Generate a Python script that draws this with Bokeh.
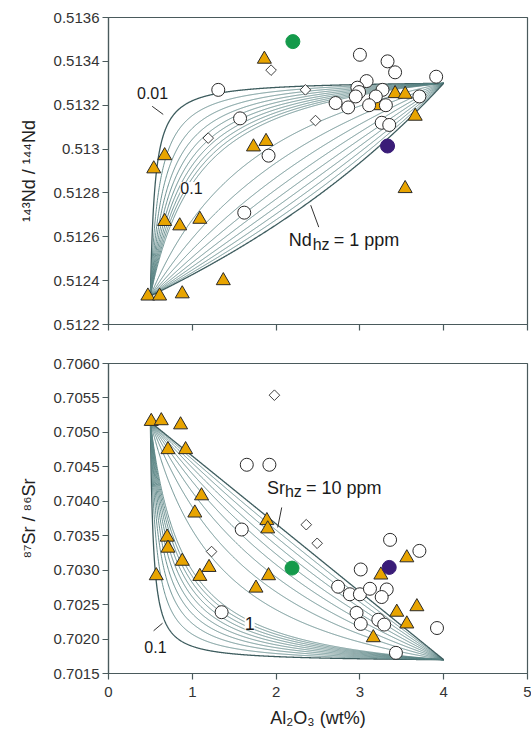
import numpy as np
from bokeh.plotting import figure
from bokeh.layouts import column
from bokeh.models import FixedTicker, Label
from bokeh.embed import file_html
from bokeh.resources import INLINE

# ---------------- data ----------------
x_ticks = [0, 1, 2, 3, 4, 5]
nd_ticks = [0.5122, 0.5124, 0.5126, 0.5128, 0.5130, 0.5132, 0.5134, 0.5136]
nd_tick_labels = ["0.5122", "0.5124", "0.5126", "0.5128", "0.513", "0.5132", "0.5134", "0.5136"]
sr_ticks = [0.7015, 0.7020, 0.7025, 0.7030, 0.7035, 0.7040, 0.7045, 0.7050, 0.7055, 0.7060]
sr_tick_labels = ["0.7015", "0.7020", "0.7025", "0.7030", "0.7035", "0.7040", "0.7045", "0.7050", "0.7055", "0.7060"]

# mixing model end-members (harzburgite -> fertile)
nd_al_hz, nd_r_hz, nd_al_f, nd_r_f, nd_c_f = 0.5, 0.51233, 4.0, 0.51330, 0.67
nd_c_hz = [0.01, 0.02, 0.03, 0.04, 0.05, 0.06, 0.07, 0.08, 0.09, 0.1,
           0.2, 0.3, 0.4, 0.5, 0.6, 0.7, 0.8, 0.9, 1.0]
sr_al_hz, sr_r_hz, sr_al_f, sr_r_f, sr_c_f = 0.5, 0.70515, 4.0, 0.70170, 10.0
sr_c_hz = [0.1, 0.2, 0.3, 0.4, 0.5, 0.6, 0.7, 0.8, 0.9, 1.0,
           2, 3, 4, 5, 6, 7, 8, 9, 10]

# Nd panel samples
nd_tri_x = [1.86, 3.42, 3.54, 3.22, 3.66, 1.88, 1.73, 0.67, 0.54, 3.54, 0.67, 0.85, 1.09, 1.37, 0.47, 0.61, 0.88]
nd_tri_y = [0.51341, 0.513253, 0.51325, 0.513198, 0.51315, 0.513035, 0.51301, 0.51297, 0.51291, 0.51282,
            0.51267, 0.51265, 0.51268, 0.51240, 0.51233, 0.51233, 0.51234]
nd_circ_x = [3.00, 3.33, 3.42, 3.91, 3.08, 1.31, 2.97, 2.99, 3.27, 2.95, 3.19, 3.71, 2.71, 2.86, 3.11, 3.31,
             1.57, 3.26, 3.35, 1.91, 1.62]
nd_circ_y = [0.51343, 0.51340, 0.51335, 0.51333, 0.51331, 0.51327, 0.51328, 0.51326, 0.51327, 0.51324,
             0.51324, 0.51324, 0.51321, 0.51319, 0.51320, 0.51320, 0.51314, 0.51312, 0.51311, 0.51297, 0.51271]
nd_dia_x = [1.94, 2.35, 2.47, 1.19]
nd_dia_y = [0.51336, 0.51327, 0.51313, 0.51305]
nd_green_x, nd_green_y = [2.20], [0.51349]
nd_purple_x, nd_purple_y = [3.33], [0.513014]

# Sr panel samples
sr_tri_x = [0.51, 0.63, 0.86, 0.71, 0.92, 1.11, 1.03, 1.89, 1.90, 0.70, 0.71, 0.88, 1.20, 0.57, 1.09, 1.91,
            1.76, 3.25, 3.56, 3.68, 3.44, 3.56, 3.16]
sr_tri_y = [0.70516, 0.70517, 0.70511, 0.70475, 0.70475, 0.70408, 0.70383, 0.70372, 0.70360, 0.70348,
            0.70332, 0.70313, 0.70304, 0.70292, 0.70291, 0.70292, 0.70274, 0.70293, 0.70318, 0.70247,
            0.70239, 0.70222, 0.70202]
sr_circ_x = [1.65, 1.92, 1.59, 3.36, 3.71, 3.01, 2.74, 2.88, 3.00, 3.12, 3.32, 3.26, 2.96, 3.01, 3.22, 3.29,
             3.92, 1.35, 3.43]
sr_circ_y = [0.70453, 0.70453, 0.70359, 0.70344, 0.70328, 0.70301, 0.70276, 0.70265, 0.70265, 0.70273,
             0.70272, 0.70261, 0.70238, 0.70222, 0.70228, 0.70221, 0.70216, 0.70239, 0.70180]
sr_dia_x = [1.98, 2.36, 2.49, 1.23]
sr_dia_y = [0.70554, 0.70366, 0.70339, 0.70327]
sr_green_x, sr_green_y = [2.19], [0.70303]
sr_purple_x, sr_purple_y = [3.35], [0.70304]

# ---------------- style ----------------
FONT = "Liberation Sans"
AX = "#4a5a5c"
CURVE = "#5a8485"
CURVE_DARK = "#3d5c5e"
ORANGE = "#e8a400"
GREEN = "#149a4b"
PURPLE = "#3a1c78"
MK_LINE = "#2a2a2a"


def mixing(al_hz, r_hz, al_f, r_f, c_f, c_hz):
    f = np.linspace(0.0, 1.0, 800)
    al = al_hz * (1 - f) + al_f * f
    r = (r_hz * c_hz * (1 - f) + r_f * c_f * f) / (c_hz * (1 - f) + c_f * f)
    return al, r


def base_fig(height, ymin, ymax, ticks, labels, top, bottom, ylab):
    p = figure(width=531, height=height, x_range=(0, 5), y_range=(ymin, ymax),
               output_backend="svg", toolbar_location=None,
               min_border_left=108, min_border_right=4, min_border_top=top, min_border_bottom=bottom)
    p.xgrid.visible = False
    p.ygrid.visible = False
    p.outline_line_color = AX
    p.outline_line_width = 1.2
    p.background_fill_color = "white"
    for ax in (p.xaxis, p.yaxis):
        ax.axis_line_color = AX
        ax.axis_line_width = 1.2
        ax.major_tick_line_color = AX
        ax.major_tick_line_width = 1.2
        ax.major_tick_out = 6
        ax.major_tick_in = 0
        ax.minor_tick_line_color = None
        ax.major_label_text_font = FONT
        ax.major_label_text_font_size = "15px"
        ax.major_label_text_color = "#333333"
        ax.axis_label_text_font = FONT
        ax.axis_label_text_font_style = "normal"
        ax.axis_label_text_color = "#222222"
        ax.axis_label_text_font_size = "18px"
    p.xaxis.ticker = FixedTicker(ticks=x_ticks)
    p.yaxis.ticker = FixedTicker(ticks=ticks)
    p.yaxis.major_label_overrides = {t: l for t, l in zip(ticks, labels)}
    p.yaxis.major_label_standoff = 3
    p.yaxis.axis_label = ylab
    p.yaxis.axis_label_standoff = 12
    return p


def add_points(p, tx, ty, cx, cy, dx, dy, gx, gy, ux, uy):
    p.scatter(tx, ty, marker="triangle", size=14, fill_color=ORANGE, line_color=MK_LINE, line_width=1)
    p.scatter(cx, cy, marker="circle", size=13, fill_color="white", line_color=MK_LINE, line_width=1)
    p.scatter(dx, dy, marker="square", angle=np.pi / 4, size=7.5, fill_color="white",
              line_color=MK_LINE, line_width=0.9)
    p.scatter(gx, gy, marker="circle", size=14, fill_color=GREEN, line_color=GREEN)
    p.scatter(ux, uy, marker="circle", size=14, fill_color=PURPLE, line_color=PURPLE)


def lab(p, x, y, text, size="16px", align="center", xo=0, yo=0, bg=None):
    p.add_layout(Label(x=x, y=y, text=text, text_font=FONT, text_font_size=size, text_color="#1a1a1a",
                       text_align=align, text_baseline="middle", x_offset=xo, y_offset=yo,
                       background_fill_color=bg, background_fill_alpha=1.0 if bg else 0))


# ---------------- top panel: Nd ----------------
p1 = base_fig(340, 0.5122, 0.5136, nd_ticks, nd_tick_labels, 17, 16, "¹⁴³Nd / ¹⁴⁴Nd")
p1.xaxis.major_label_text_color = None
p1.xaxis.major_label_standoff = 0

for i, c in enumerate(nd_c_hz):
    al, r = mixing(nd_al_hz, nd_r_hz, nd_al_f, nd_r_f, nd_c_f, c)
    edge = i in (0, len(nd_c_hz) - 1)
    p1.line(al, r, line_color=CURVE_DARK if edge else CURVE, line_width=1.3 if edge else 0.9)

add_points(p1, nd_tri_x, nd_tri_y, nd_circ_x, nd_circ_y, nd_dia_x, nd_dia_y,
           nd_green_x, nd_green_y, nd_purple_x, nd_purple_y)

lab(p1, 0.526, 0.513256, "0.01")
p1.segment(x0=[0.521], y0=[0.513195], x1=[0.653], y1=[0.513158], line_color="#333", line_width=1)
lab(p1, 0.99, 0.512822, "0.1", bg="white")
p1.segment(x0=[2.413], y0=[0.512744], x1=[2.509], y1=[0.512644], line_color="#333", line_width=1)
lab(p1, 2.15, 0.512585, "Nd", size="18px", align="left")
lab(p1, 2.15, 0.512585, "hz", size="16px", align="left", xo=24, yo=-4)
lab(p1, 2.15, 0.512585, "= 1 ppm", size="18px", align="left", xo=45)

# ---------------- bottom panel: Sr ----------------
p2 = base_fig(397, 0.7015, 0.7060, sr_ticks, sr_tick_labels, 23, 64, "⁸⁷Sr / ⁸⁶Sr")
p2.xaxis.major_label_standoff = 7
p2.xaxis.axis_label = "Al₂O₃ (wt%)"
p2.xaxis.axis_label_standoff = 8

for i, c in enumerate(sr_c_hz):
    al, r = mixing(sr_al_hz, sr_r_hz, sr_al_f, sr_r_f, sr_c_f, c)
    edge = i in (0, len(sr_c_hz) - 1)
    p2.line(al, r, line_color=CURVE_DARK if edge else CURVE, line_width=1.3 if edge else 0.9)

add_points(p2, sr_tri_x, sr_tri_y, sr_circ_x, sr_circ_y, sr_dia_x, sr_dia_y,
           sr_green_x, sr_green_y, sr_purple_x, sr_purple_y)

lab(p2, 1.685, 0.70223, "1", size="18px", bg="white")
lab(p2, 0.56, 0.70188, "0.1")
p2.segment(x0=[0.538], y0=[0.70212], x1=[0.645], y1=[0.70223], line_color="#333", line_width=1)
p2.segment(x0=[2.019], y0=[0.70362], x1=[2.067], y1=[0.70391], line_color="#333", line_width=1)
lab(p2, 1.89, 0.70420, "Sr", size="18px", align="left")
lab(p2, 1.89, 0.70420, "hz", size="16px", align="left", xo=18, yo=-4)
lab(p2, 1.89, 0.70420, "= 10 ppm", size="18px", align="left", xo=39)

layout = column(p1, p2, spacing=0)
open("out.html", "w").write(file_html(layout, INLINE))
